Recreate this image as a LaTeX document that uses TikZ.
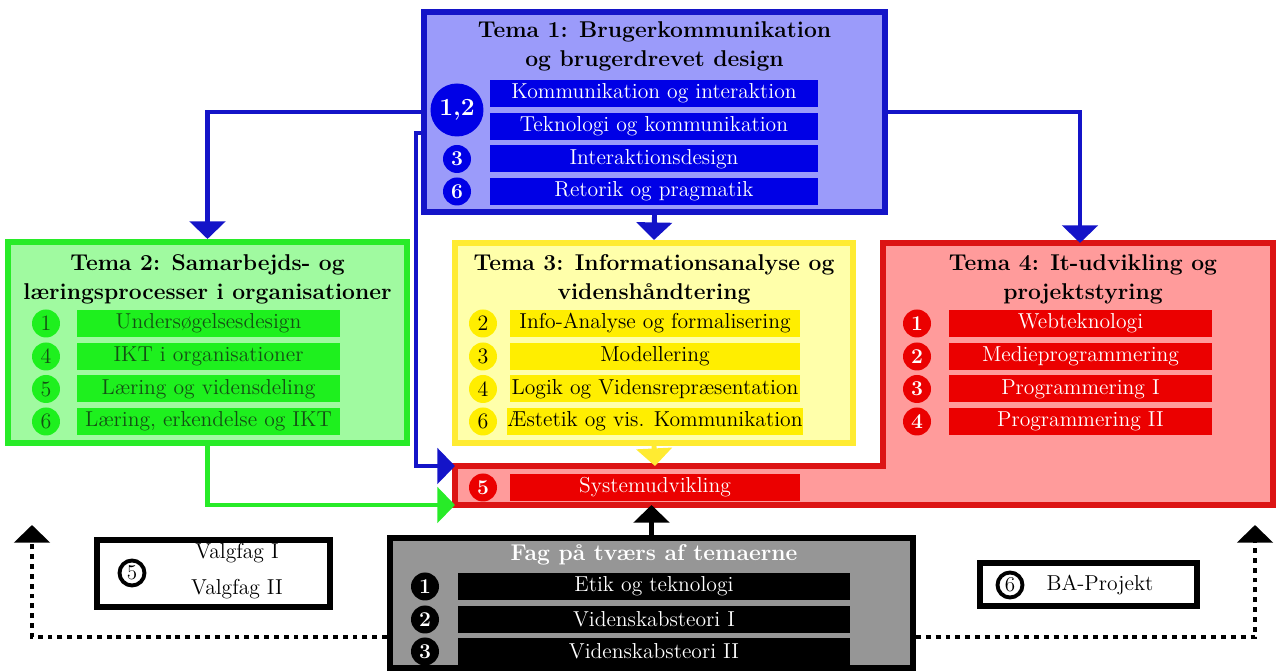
\documentclass[tikz,border=0pt]{standalone}
\usepackage{xcolor}
\usetikzlibrary{fit,arrows.meta,positioning}

\definecolor{tonebord}{RGB}{20,20,200}
\definecolor{tonefill}{RGB}{155,155,250}
\definecolor{tonebar}{RGB}{0,0,230}
\definecolor{ttwobord}{RGB}{40,235,40}
\definecolor{ttwofill}{RGB}{160,250,160}
\definecolor{ttwobar}{RGB}{30,240,30}
\definecolor{ttwotext}{RGB}{20,80,20}
\definecolor{tthreebord}{RGB}{255,235,50}
\definecolor{tthreefill}{RGB}{255,255,170}
\definecolor{tthreebar}{RGB}{255,238,0}
\definecolor{tfourbord}{RGB}{220,20,20}
\definecolor{tfourfill}{RGB}{255,155,155}
\definecolor{tfourbar}{RGB}{235,0,0}
\definecolor{fagfill}{RGB}{150,150,150}

\tikzset{
  frame/.style={line width=3.4pt, inner sep=0pt},
  title/.style={align=center, font=\fontsize{13}{16.5}\selectfont\bfseries},
  bar/.style={minimum height=0.54cm, inner sep=0pt, font=\fontsize{12.3}{14}\selectfont},
  num/.style={circle, inner sep=0pt, minimum size=0.56cm, font=\fontsize{12}{13}\selectfont\bfseries},
  conn/.style={line width=2.8pt, -{Triangle[width=20pt,length=10pt]}},
  dotconn/.style={line width=2.4pt, dash pattern=on 2.8pt off 2.8pt, -{Triangle[width=20pt,length=10pt]}}
}

\begin{document}
\begin{tikzpicture}[x=0.02cm, y=-0.02cm]
    \useasboundingbox (0,0) rectangle (1279,671);

    % frames
    \node[frame, draw=tonebord, fill=tonefill, fit={(424,12) (885,212)}] (t1) {};
    \node[frame, draw=ttwobord, fill=ttwofill, fit={(8,242) (407,443)}] (t2) {};
    \node[frame, draw=tthreebord, fill=tthreefill, fit={(455,243) (853,443)}] (t3) {};
    \draw[line width=3.4pt, draw=tfourbord, fill=tfourfill]
        (455,466) -- (883,466) -- (883,243) -- (1273,243) -- (1273,505) -- (455,505) -- cycle;
    \node[frame, draw=black, fill=fagfill, fit={(390,538) (913,668)}] (fag) {};
    \node[frame, draw=black, fill=white, fit={(97,540) (330,607)}] (valg) {};
    \node[frame, draw=black, fill=white, fit={(980,563) (1197,606)}] (ba) {};

    % Tema 1
    \node[title] (t1title) at (654.5,46) {Tema 1: Brugerkommunikation\\og brugerdrevet design};
    \node[bar, fill=tonebar, text=white, minimum width=6.56cm] (k1) at (654,93.5) {Kommunikation og interaktion};
    \node[bar, fill=tonebar, text=white, minimum width=6.56cm] (k2) at (654,126.5) {Teknologi og kommunikation};
    \node[bar, fill=tonebar, text=white, minimum width=6.56cm] (k3) at (654,159) {Interaktionsdesign};
    \node[bar, fill=tonebar, text=white, minimum width=6.56cm] (k4) at (654,191.5) {Retorik og pragmatik};
    \node[num, fill=tonebar, text=white, minimum size=1.06cm, font=\fontsize{14}{15}\selectfont\bfseries] (n12) at (457,110) {1,2};
    \node[num, fill=tonebar, text=white] (n3) at (457,159) {3};
    \node[num, fill=tonebar, text=white] (n6) at (457,191.5) {6};

    % Tema 2
    \node[title] (t2title) at (207.5,279) {Tema 2: Samarbejds- og\\læringsprocesser i organisationer};
    \node[bar, fill=ttwobar, text=ttwotext, minimum width=5.26cm] (s1) at (208.5,323.5) {Undersøgelsesdesign};
    \node[bar, fill=ttwobar, text=ttwotext, minimum width=5.26cm] (s2) at (208.5,356.5) {IKT i organisationer};
    \node[bar, fill=ttwobar, text=ttwotext, minimum width=5.26cm] (s3) at (208.5,389) {Læring og vidensdeling};
    \node[bar, fill=ttwobar, text=ttwotext, minimum width=5.26cm] (s4) at (208.5,421.5) {Læring, erkendelse og IKT};
    \node[num, fill=ttwobar, text=ttwotext, font=\fontsize{12.5}{13}\selectfont] (m1) at (46,323.5) {1};
    \node[num, fill=ttwobar, text=ttwotext, font=\fontsize{12.5}{13}\selectfont] (m4) at (46,356.5) {4};
    \node[num, fill=ttwobar, text=ttwotext, font=\fontsize{12.5}{13}\selectfont] (m5) at (46,389) {5};
    \node[num, fill=ttwobar, text=ttwotext, font=\fontsize{12.5}{13}\selectfont] (m6) at (46,421.5) {6};

    % Tema 3
    \node[title] (t3title) at (654,279) {Tema 3: Informationsanalyse og\\videnshåndtering};
    \node[bar, fill=tthreebar, minimum width=5.8cm] (i1) at (655,323.5) {Info-Analyse og formalisering};
    \node[bar, fill=tthreebar, minimum width=5.8cm] (i2) at (655,356.5) {Modellering};
    \node[bar, fill=tthreebar, minimum width=5.8cm] (i3) at (655,389) {Logik og Vidensrepræsentation};
    \node[bar, fill=tthreebar, minimum width=5.8cm] (i4) at (655,421.5) {Æstetik og vis. Kommunikation};
    \node[num, fill=tthreebar, font=\fontsize{12.5}{13}\selectfont] (p2) at (483,323.5) {2};
    \node[num, fill=tthreebar, font=\fontsize{12.5}{13}\selectfont] (p3) at (483,356.5) {3};
    \node[num, fill=tthreebar, font=\fontsize{12.5}{13}\selectfont] (p4) at (483,389) {4};
    \node[num, fill=tthreebar, font=\fontsize{12.5}{13}\selectfont] (p6) at (483,421.5) {6};

    % Tema 4
    \node[title] (t4title) at (1083,279) {Tema 4: It-udvikling og\\projektstyring};
    \node[bar, fill=tfourbar, text=white, minimum width=5.26cm] (w1) at (1080.5,323.5) {Webteknologi};
    \node[bar, fill=tfourbar, text=white, minimum width=5.26cm] (w2) at (1080.5,356.5) {Medieprogrammering};
    \node[bar, fill=tfourbar, text=white, minimum width=5.26cm] (w3) at (1080.5,389) {Programmering I};
    \node[bar, fill=tfourbar, text=white, minimum width=5.26cm] (w4) at (1080.5,421.5) {Programmering II};
    \node[num, fill=tfourbar, text=white] (q1) at (917,323.5) {1};
    \node[num, fill=tfourbar, text=white] (q2) at (917,356.5) {2};
    \node[num, fill=tfourbar, text=white] (q3) at (917,389) {3};
    \node[num, fill=tfourbar, text=white] (q4) at (917,421.5) {4};
    \node[bar, fill=tfourbar, text=white, minimum width=5.8cm] (sys) at (655,487.5) {Systemudvikling};
    \node[num, fill=tfourbar, text=white] (q5) at (483,487.5) {5};

    % Fag paa tvaers
    \node[title, text=white] (fagtitle) at (654,555) {Fag på tværs af temaerne};
    \node[bar, fill=black, text=white, minimum width=7.86cm] (f1) at (654,586.5) {Etik og teknologi};
    \node[bar, fill=black, text=white, minimum width=7.86cm] (f2) at (654,619.5) {Videnskabsteori I};
    \node[bar, fill=black, text=white, minimum width=7.86cm] (f3) at (654,651.5) {Videnskabsteori II};
    \node[num, fill=black, text=white] (r1) at (425,586.5) {1};
    \node[num, fill=black, text=white] (r2) at (425,619.5) {2};
    \node[num, fill=black, text=white] (r3) at (425,651.5) {3};

    % valgfag og BA
    \node[num, draw=black, line width=2.2pt, fill=white, minimum size=0.5cm, font=\fontsize{12}{13}\selectfont] (v5) at (132,573) {5};
    \node[bar] (v1) at (237,553) {Valgfag I};
    \node[bar] (v2) at (237,589) {Valgfag II};
    \node[num, draw=black, line width=2.2pt, fill=white, minimum size=0.5cm, font=\fontsize{12}{13}\selectfont] (b6) at (1010,585) {6};
    \node[bar] (bap) at (1100,585) {BA-Projekt};

    % connectors
    \coordinate (t4top) at (1080,243);
    \coordinate (redin) at (455,466);
    \coordinate (redlow) at (455,505);
    \coordinate (redtop) at (655,466);
    \coordinate (redbot) at (655,505);
    \coordinate (leftup) at (32,525);
    \coordinate (rightup) at (1255,525);

    \draw[conn, tonebord] (t1.south) -- (t3.north);
    \draw[conn, tonebord] (t1.west |- 0,112) -| (t2.north);
    \draw[conn, tonebord] (t1.east |- 0,112) -| (t4top);
    \draw[conn, tonebord] (t1.west |- 0,133) -- (416,133) |- (redin);
    \draw[conn, ttwobord] (t2.south) |- (redlow);
    \draw[conn, tthreebord] (t3.south) -- (redtop);
    \draw[conn, black] (fag.north) -- (fag.north |- redbot);
    \draw[dotconn] (fag.west |- 0,637) -| (leftup);
    \draw[dotconn] (fag.east |- 0,637) -| (rightup);

\end{tikzpicture}
\end{document}
